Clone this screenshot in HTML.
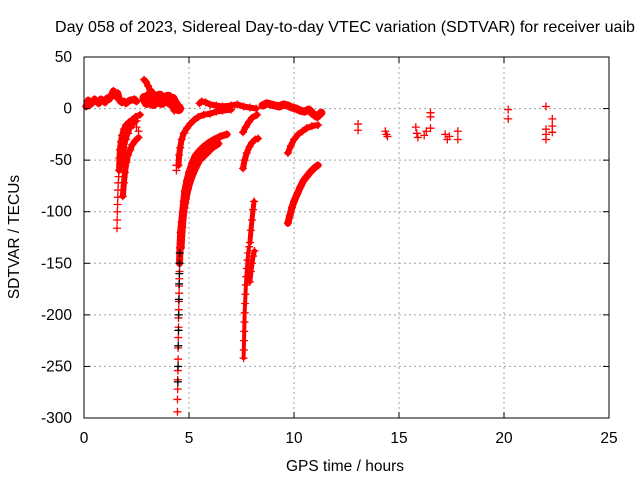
<!DOCTYPE html>
<html><head><meta charset="utf-8"><style>
body{margin:0;background:#fff;}
svg{display:block;font-family:"Liberation Sans",sans-serif;}
</style></head><body>
<svg id="chart" width="640" height="480" viewBox="0 0 640 480">
<rect width="640" height="480" fill="#fff"/>
<g id="grid"></g>
<g id="marks"></g>
<g id="axes"></g>
<text x="345" y="32" text-anchor="middle" font-size="16" textLength="580" lengthAdjust="spacingAndGlyphs">Day 058 of 2023, Sidereal Day-to-day VTEC variation (SDTVAR) for receiver uaib</text>
<text x="345" y="471" text-anchor="middle" font-size="15.5">GPS time / hours</text>
<text x="0" y="0" transform="translate(19,237) rotate(-90)" text-anchor="middle" font-size="15.5">SDTVAR / TECUs</text>
</svg>
<script>
const xTicks=[0,5,10,15,20,25];
const yTicks=[50,0,-50,-100,-150,-200,-250,-300];
// arcs: [hour, TECU]
const arcTop=[[0.1,2],[0.2,8],[0.3,4],[0.4,6],[0.5,9],[0.6,7],[0.7,5],[0.8,9],[0.9,8],[1.0,6],[1.1,10],[1.2,9],[1.3,13],[1.4,17],[1.5,12],[1.6,15],[1.7,8],[1.8,6],[1.9,7],[2.0,5],[2.1,7],[2.2,8],[2.4,9],[2.5,7]];
const arcTri=[[2.86,28],[2.95,26],[3.05,22],[3.15,18],[3.3,15],[3.45,12],[3.6,10],[3.8,8],[4.0,5],[4.2,2],[4.3,-2]];
const arcBlock=[[2.9,10],[3.0,6],[3.1,12],[3.2,8],[3.3,5],[3.4,10],[3.5,7],[3.6,12],[3.7,6],[3.8,10],[3.9,8],[4.0,11],[4.1,7],[4.2,9],[4.3,5],[4.4,2],[4.5,0]];
const arc1=[[1.67,-60],[1.69,-48],[1.71,-40],[1.76,-32],[1.81,-26],[1.9,-20],[2.0,-16],[2.15,-13],[2.29,-11],[2.45,-8],[2.67,-6]];
const arc1Deep=[[1.57,-116],[1.58,-108],[1.59,-100],[1.6,-93],[1.61,-86],[1.62,-79],[1.63,-72],[1.65,-66]];
const arc2=[[1.85,-55],[1.88,-45],[1.92,-38],[2.0,-30],[2.1,-24],[2.2,-19],[2.35,-15],[2.5,-12]];
const arc3=[[1.85,-85],[1.9,-72],[1.95,-62],[2.02,-52],[2.1,-45],[2.2,-40],[2.3,-35],[2.45,-31],[2.6,-28]];
const arc4=[[4.55,-150],[4.57,-135],[4.6,-120],[4.65,-110],[4.7,-100],[4.75,-90],[4.8,-80],[4.9,-70],[5.0,-62],[5.15,-53],[5.3,-46],[5.5,-41],[5.7,-37],[5.95,-33],[6.2,-30],[6.5,-27],[6.8,-25]];
const arc4Deep=[[4.45,-294],[4.45,-282],[4.46,-272],[4.46,-263],[4.47,-254],[4.48,-243],[4.48,-232],[4.49,-222],[4.5,-212],[4.5,-203],[4.51,-195],[4.52,-187],[4.53,-179],[4.53,-172],[4.54,-165],[4.55,-158]];
const arc4b=[[4.62,-135],[4.68,-115],[4.75,-100],[4.85,-88],[4.95,-78],[5.1,-68],[5.3,-58],[5.5,-50],[5.8,-44],[6.1,-38],[6.4,-34]];
const arc5=[[4.5,-55],[4.53,-45],[4.58,-38],[4.65,-30],[4.75,-24],[4.9,-19],[5.05,-15],[5.25,-11],[5.45,-8],[5.7,-6],[6.0,-5],[6.3,-3],[6.6,-2],[7.0,-1]];
const arcTop2=[[5.5,5],[5.6,7],[5.8,6],[6.0,4],[6.3,3],[6.6,2],[7.0,3],[7.3,4],[7.6,2],[7.9,1],[8.2,0]];
const arc6=[[7.9,-130],[7.95,-118],[8.0,-108],[8.05,-98],[8.1,-90]];
const arc6Deep=[[7.6,-242],[7.61,-234],[7.62,-225],[7.63,-216],[7.64,-207],[7.65,-198],[7.67,-189],[7.69,-180],[7.71,-171],[7.73,-163],[7.76,-155],[7.79,-147],[7.82,-140],[7.86,-134]];
const arc6b=[[7.9,-168],[7.95,-158],[8.0,-150],[8.05,-143],[8.12,-138]];
const arc7=[[7.57,-58],[7.65,-50],[7.75,-43],[7.88,-37],[8.0,-33],[8.15,-30],[8.29,-29]];
const arc8=[[7.57,-23],[7.7,-18],[7.85,-13],[8.0,-9],[8.24,-6]];
const arcTop3=[[8.5,3],[8.7,5],[8.9,4],[9.1,3],[9.3,2],[9.5,4],[9.7,3],[9.9,1],[10.1,0],[10.3,-2],[10.5,-3],[10.7,-1],[10.9,-5],[11.1,-8],[11.3,-4]];
const arc9=[[9.71,-43],[9.85,-36],[10.0,-30],[10.2,-25],[10.4,-22],[10.6,-19],[10.85,-17],[11.14,-16]];
const arc10=[[9.71,-111],[9.8,-104],[9.9,-96],[10.0,-90],[10.15,-83],[10.3,-76],[10.45,-70],[10.6,-66],[10.8,-61],[11.0,-57],[11.14,-55]];
const singles=[[2.5,-18],[2.6,-22],[13.05,-15],[13.05,-21],[14.35,-22],[14.4,-25],[14.45,-27],[15.8,-18],[15.85,-24],[15.9,-28],[16.2,-26],[16.3,-22],[16.5,-4],[16.5,-8],[16.5,-19],[17.2,-25],[17.3,-30],[17.4,-27],[17.8,-22],[17.8,-30],[20.2,-1],[20.2,-10],[22.0,2],[22.0,-20],[22.0,-25],[22.0,-30],[22.3,-10],[22.3,-17],[22.3,-23],[4.4,-55],[4.4,-60]];
const blackPts=[[4.47,-265],[4.48,-250],[4.49,-230],[4.5,-215],[4.51,-200],[4.52,-185],[4.53,-170],[4.54,-160],[4.55,-150],[4.56,-140]];

const X0=84,X1=609,Y0=418,Y1=57;
function sx(h){return X0+(h-0)/(25-0)*(X1-X0);}
function sy(v){return Y0-(v+300)/350*(Y0-Y1);}
const NS='http://www.w3.org/2000/svg';
function mk(tag,attrs,parent){const e=document.createElementNS(NS,tag);for(const k in attrs)e.setAttribute(k,attrs[k]);parent.appendChild(e);return e;}
const grid=document.getElementById('grid'),axes=document.getElementById('axes'),marks=document.getElementById('marks');
xTicks.forEach(t=>{const x=sx(t);
 if(t>0&&t<25){const l=mk('line',{x1:x,y1:Y1,x2:x,y2:Y0,stroke:'#a0a0a0','stroke-dasharray':'2,3'},grid);}
 mk('line',{x1:x,y1:Y0,x2:x,y2:Y0-6,stroke:'#000'},axes);mk('line',{x1:x,y1:Y1,x2:x,y2:Y1+6,stroke:'#000'},axes);
 const tx=mk('text',{x:x,y:443,'text-anchor':'middle','font-size':'15.5'},axes);tx.textContent=t;
 });
yTicks.forEach(t=>{const y=sy(t);
 if(t>-300&&t<50){const l=mk('line',{x1:X0,y1:y,x2:X1,y2:y,stroke:'#a0a0a0','stroke-dasharray':'2,3'},grid);}
 mk('line',{x1:X0,y1:y,x2:X0+6,y2:y,stroke:'#000'},axes);mk('line',{x1:X1,y1:y,x2:X1-6,y2:y,stroke:'#000'},axes);
 const tx=mk('text',{x:72,y:y+5,'text-anchor':'end','font-size':'15.5'},axes);tx.textContent=t;
 });
const b=mk('rect',{x:X0,y:Y1,width:X1-X0,height:Y0-Y1,fill:'none',stroke:'#000'},axes);

function plus(h,v,col){const x=sx(h),y=sy(v);
 const p=mk('path',{d:`M${x-4} ${y}H${x+4}M${x} ${y-4}V${y+4}`,stroke:col,'stroke-width':'1.3',fill:'none'},marks);
 }
function arc(pts,w){
 const pl=mk('polyline',{points:pts.map(p=>sx(p[0])+','+sy(p[1])).join(' '),fill:'none',stroke:'#f00','stroke-width':w,'stroke-linejoin':'round','stroke-linecap':'round'},marks);
 
 pts.forEach(p=>plus(p[0],p[1],'#f00'));}
arc(arcTop,7);arc(arcTri,6);arc(arcBlock,11);
arc(arc1,6);arc(arc2,5);arc(arc3,6);
arc(arc4,7);arc(arc4b,7);arc(arc5,6);arc(arcTop2,6);
arc(arc6,5);arc(arc6Deep,4);arc(arc6b,5);arc(arc7,6);arc(arc8,6);arc(arcTop3,8);arc(arc9,6);arc(arc10,7);
[arc1Deep,arc4Deep].forEach(s=>s.forEach(p=>plus(p[0],p[1],'#f00')));
singles.forEach(p=>plus(p[0],p[1],'#f00'));
blackPts.forEach(p=>plus(p[0],p[1],'#000'));
</script>
</body></html>
